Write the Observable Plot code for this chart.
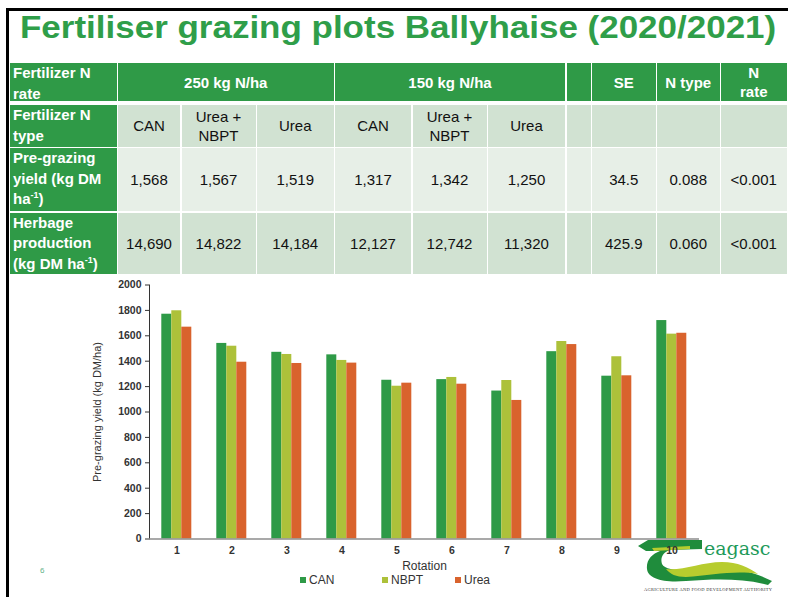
<!DOCTYPE html>
<html><head><meta charset="utf-8">
<script src="https://cdn.jsdelivr.net/npm/d3@7"></script>
<script src="https://cdn.jsdelivr.net/npm/@observablehq/plot@0.6"></script>
<style>
html,body{margin:0;padding:0;background:#fff;}
body{width:788px;height:597px;position:relative;overflow:hidden;font-family:"Liberation Sans",Arial,sans-serif;}
#frame{position:absolute;left:6px;top:8px;width:800px;height:620px;border-left:3px solid #000;border-top:3px solid #000;}
#title{position:absolute;left:20px;top:11px;font-size:32px;font-weight:bold;color:#2f9e49;white-space:nowrap;line-height:32px;transform-origin:0 0;transform:scaleX(1.093);}
.cell{position:absolute;box-sizing:border-box;font-size:15px;line-height:19px;display:flex;align-items:center;justify-content:center;text-align:center;color:#111;}
.head{background:#2f9a47;color:#fff;font-weight:bold;}
.rowhead{background:#2f9a47;color:#fff;font-weight:bold;justify-content:flex-start;align-items:flex-start;text-align:left;padding-left:3px;padding-top:0;line-height:20.5px;}
.r1{background:#d1e2d2;}
.r2{background:#e7efe7;}
.r3{background:#d1e2d2;}
sup{font-size:9px;line-height:0;vertical-align:6px;}
#chart{position:absolute;left:0;top:276px;}
#chart svg [aria-label="y-axis tick"], #chart svg [aria-label="y-axis line"]{stroke:#8c8c8c;}
#chart svg [aria-label="y-axis tick label"], #chart svg [aria-label="fx-axis tick label"]{font-weight:bold;fill:#333;}
#chart svg [aria-label="y-axis label"]{font-size:11px;fill:#333;}
#chart svg [aria-label="fx-axis label"]{font-size:12px;fill:#333;}
#legend{position:absolute;top:573px;left:0;width:788px;height:16px;font-size:12px;color:#333;}
.lg{position:absolute;top:0;white-space:nowrap;}
.sw{display:inline-block;width:6px;height:6px;margin-right:3px;vertical-align:1px;}
#pagenum{position:absolute;left:40px;top:566px;font-size:8px;color:#5fb38a;}
#logo{position:absolute;left:630px;top:534px;}
</style></head>
<body>
<div id="frame"></div>
<div id="title">Fertiliser grazing plots Ballyhaise (2020/2021)</div>
<div id="table"></div>
<div id="pagenum">6</div>
<svg id="logo" width="158" height="60" viewBox="0 0 158 60">
  <path d="M8 12 L18 6 L72 6 L72 15 L40 16 C33 18 30 24 32 30 C36 38 60 37 82 35 C104 33 122 37 142 47 L138 51 C112 44 84 45 56 47 C34 49 18 45 17 35 C16 26 22 20 30 17 L16 17 Z" fill="#1f8c3c"/>
  <path d="M36 35 C52 37 72 28 92 28 C108 28 118 33 128 40 C106 36 82 41 56 43 C46 43 40 40 36 35 Z" fill="#b7cc2e"/>
  <path d="M22 14 L60 12 L60 15 L24 17 Z" fill="#b7cc2e"/>
  <text x="74" y="21" font-family="DejaVu Serif,serif" font-size="19" fill="#1e9a5a">eagasc</text>
  <text x="14" y="57" font-family="Liberation Serif,serif" font-size="4.5" fill="#333" textLength="128">AGRICULTURE AND FOOD DEVELOPMENT AUTHORITY</text>
</svg>
<div id="chart"></div>
<div id="legend"></div>
<script>
// ---------- table data ----------
const rateHeaders = ["250 kg N/ha", "150 kg N/ha"];
const statHeaders = ["SE", "N type", "N\nrate"];
const rowLabels = ["Fertilizer N\nrate", "Fertilizer N\ntype", "Pre-grazing\nyield (kg DM\nha<sup>-1</sup>)", "Herbage\nproduction\n(kg DM ha<sup>-1</sup>)"];
const nTypes = ["CAN", "Urea +\nNBPT", "Urea", "CAN", "Urea +\nNBPT", "Urea"];
const preGrazingYield = ["1,568", "1,567", "1,519", "1,317", "1,342", "1,250"];
const preGrazingStats = ["34.5", "0.088", "<0.001"];
const herbageProduction = ["14,690", "14,822", "14,184", "12,127", "12,742", "11,320"];
const herbageStats = ["425.9", "0.060", "<0.001"];

// ---------- chart data ----------
const rotations = [1, 2, 3, 4, 5, 6, 7, 8, 9, 10];
const seriesNames = ["CAN", "NBPT", "Urea"];
const seriesColors = ["#2e9a47", "#adc13a", "#d9632d"];
const canYield  = [1770, 1540, 1470, 1450, 1250, 1255, 1165, 1475, 1282, 1720];
const nbptYield = [1797, 1518, 1453, 1406, 1203, 1272, 1248, 1555, 1435, 1613];
const ureaYield = [1668, 1392, 1382, 1385, 1227, 1219, 1091, 1531, 1285, 1620];

// ---------- table layout ----------
const colX = [10, 118, 181.5, 257, 335, 412.5, 488, 566.5, 592, 657, 721, 788];
const rowY = [63, 105, 148, 212.5, 275];
const tbl = document.getElementById("table");
function cell(c0, c1, r, html, cls) {
  const d = document.createElement("div");
  d.className = "cell " + cls;
  const gapB = r === 0 ? 4 : 1.5;
  d.style.left = colX[c0] + "px";
  d.style.top = rowY[r] + "px";
  d.style.width = (colX[c1] - colX[c0] - 1.5) + "px";
  d.style.height = (rowY[r + 1] - rowY[r] - gapB) + "px";
  d.innerHTML = "<div>" + html.replace(/\n/g, "<br>") + "</div>";
  tbl.appendChild(d);
}
function esc(s){ return s.replace(/&/g,"&amp;").replace(/</g,"&lt;"); }
// header row
cell(0, 1, 0, rowLabels[0], "rowhead");
cell(1, 4, 0, esc(rateHeaders[0]), "head");
cell(4, 7, 0, esc(rateHeaders[1]), "head");
cell(7, 8, 0, "", "head");
statHeaders.forEach((s, i) => cell(8 + i, 9 + i, 0, esc(s), "head"));
// type row
cell(0, 1, 1, rowLabels[1], "rowhead");
nTypes.forEach((s, i) => cell(1 + i, 2 + i, 1, esc(s), "r1"));
for (let i = 7; i < 11; i++) cell(i, i + 1, 1, "", "r1");
// pre-grazing row
cell(0, 1, 2, rowLabels[2], "rowhead");
preGrazingYield.forEach((s, i) => cell(1 + i, 2 + i, 2, esc(s), "r2"));
cell(7, 8, 2, "", "r2");
preGrazingStats.forEach((s, i) => cell(8 + i, 9 + i, 2, esc(s), "r2"));
// herbage row
cell(0, 1, 3, rowLabels[3], "rowhead");
herbageProduction.forEach((s, i) => cell(1 + i, 2 + i, 3, esc(s), "r3"));
cell(7, 8, 3, "", "r3");
herbageStats.forEach((s, i) => cell(8 + i, 9 + i, 3, esc(s), "r3"));

// ---------- chart ----------
const seriesValues = [canYield, nbptYield, ureaYield];
const data = rotations.flatMap((r, i) => seriesNames.map((s, k) => ({rotation: r, type: s, value: seriesValues[k][i]})));

const chart = Plot.plot({
  width: 788,
  height: 300,
  marginLeft: 146.7,
  marginRight: 87.3,
  marginTop: 8.5,
  marginBottom: 37.5,
  style: {background: "transparent", fontFamily: "Liberation Sans, Arial, sans-serif", fontSize: "10.5px", color: "#333", overflow: "visible"},
  fx: {domain: rotations, paddingInner: 0, paddingOuter: 0, axis: "bottom", tickSize: 0, tickPadding: 8, label: "Rotation", labelAnchor: "center", labelOffset: 31},
  x: {domain: seriesNames, axis: null, paddingInner: 0, paddingOuter: 1.02},
  y: {domain: [0, 2000], ticks: 10, tickFormat: d3.format("d"), tickSize: 4, tickPadding: 4, line: true, label: "Pre-grazing yield (kg DM/ha)", labelAnchor: "center", labelOffset: 56, labelArrow: "none"},
  color: {domain: seriesNames, range: seriesColors},
  marks: [
    Plot.barY(data, {fx: "rotation", x: "type", y: "value", fill: "type"}),
    Plot.ruleY([0], {stroke: "#8c8c8c", strokeWidth: 1.3})
  ]
});
document.getElementById("chart").appendChild(chart);

// ---------- legend ----------
const legendLeft = [300, 382, 455];
const lg = document.getElementById("legend");
seriesNames.forEach((s, i) => {
  const d = document.createElement("div");
  d.className = "lg";
  d.style.left = legendLeft[i] + "px";
  d.innerHTML = `<span class="sw" style="background:${seriesColors[i]}"></span>${s}`;
  lg.appendChild(d);
});
</script>
</body></html>
